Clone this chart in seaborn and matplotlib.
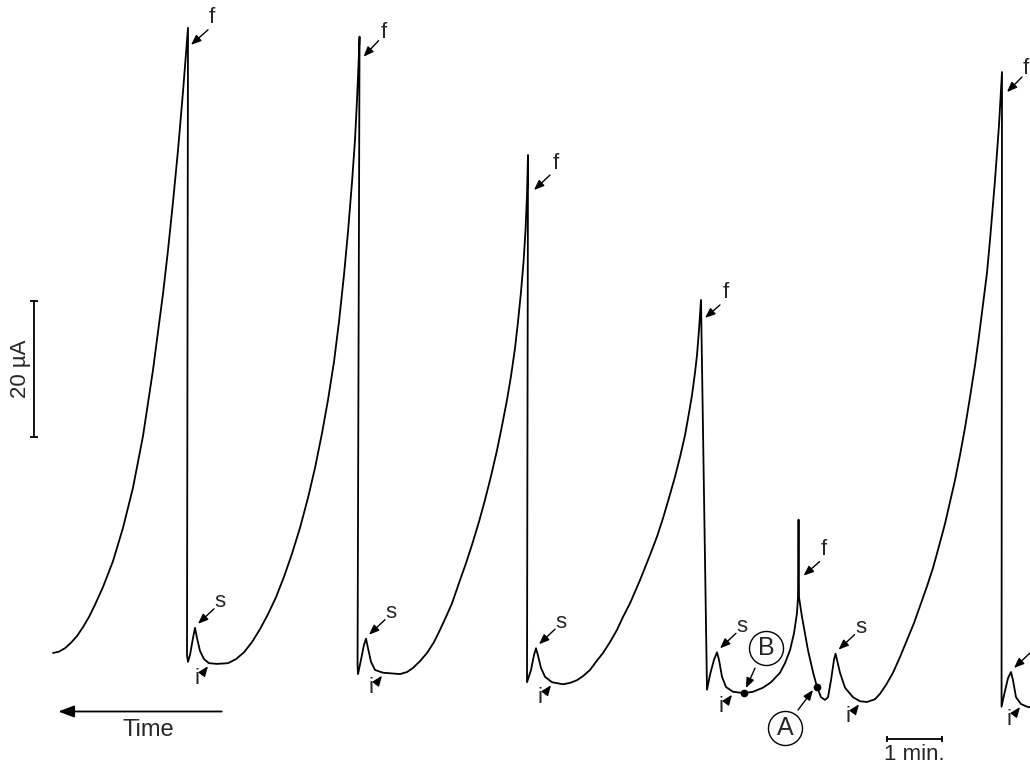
import matplotlib
matplotlib.use("Agg")
import matplotlib.pyplot as plt
from matplotlib.transforms import offset_copy
import pandas as pd
import seaborn as sns

time_s = [
    # rise 1
    0.0, 6.6, 13.2, 19.8, 26.4, 33.0, 39.6, 46.2, 55.0, 66.0,
    77.0, 88.0, 99.0, 110.0, 121.0, 126.5, 132.0, 137.5, 143.0, 148.5,
    # fall 1, s, i
    147.4, 148.5, 150.7, 154.0, 156.2, 158.4, 161.7, 166.1, 171.6, 180.4, 192.5,
    # rise 2
    201.3, 210.1, 218.9, 227.7, 236.5, 245.3, 254.1, 262.9, 271.7, 280.5, 288.2,
    295.9, 302.5, 309.1, 314.6, 320.1, 324.5, 328.9, 332.2, 334.4, 336.05, 337.2,
    # fall 2, s, i
    335.0, 335.5, 338.8, 342.1, 344.3, 346.5, 349.8, 354.2, 363.0, 381.7,
    # rise 3
    389.4, 396.0, 403.7, 411.4, 419.1, 425.7, 432.3, 438.9, 447.7, 454.3, 460.9, 468.6, 475.2,
    481.8, 488.4, 493.9, 499.4, 503.8, 508.2, 511.5, 514.8, 517.6, 519.8, 521.4, 522.5,
    # fall 3, s, i
    521.4, 525.8, 529.1, 531.3, 533.5, 536.8, 541.2, 548.9, 561.0, 568.7, 576.4, 583.0, 590.7,
    # rise 4
    597.3, 605.0, 612.7, 620.4, 627.0, 634.7, 645.7, 656.7, 664.4, 671.0,
    677.6, 684.2, 689.7, 695.2, 699.6, 702.9, 706.2, 708.4, 710.6, 712.8,
    # fall 4, s, i, B, short peak 5, A, s, i
    719.4, 722.7, 727.1, 730.4, 732.6, 735.9, 740.3, 748.0, 760.1, 770.0,
    781.0, 789.8, 799.7, 805.2, 810.7, 815.1, 818.4, 819.5, 820.1, 820.6,
    823.9, 830.5, 836.0, 840.4, 844.8, 849.2, 852.5, 855.8, 859.1, 860.8,
    862.4, 865.7, 871.2, 880.0, 887.7, 895.4, 904.2,
    # rise 6
    909.7, 916.3, 924.0, 931.7, 939.4, 947.1, 953.7, 961.4, 968.0, 974.6,
    981.2, 986.7, 992.2, 997.7, 1003.2, 1008.7, 1014.2, 1018.6, 1023.0, 1027.4,
    1030.7, 1034.0, 1036.2, 1038.4, 1040.6, 1042.2, 1043.9,
    # fall 6, s, i
    1043.4, 1046.1, 1050.5, 1053.8, 1056.0, 1059.3, 1064.8, 1071.4, 1080.2,
]
current_uA = [
    2.5, 2.7, 3.2, 4.0, 5.0, 6.3, 7.8, 9.6, 12.2, 16.0,
    20.9, 26.8, 34.4, 44.1, 55.3, 61.7, 68.8, 76.4, 85.0, 94.4,
    2.2, 1.2, 2.2, 4.7, 6.2, 4.7, 2.8, 1.6, 1.0, 0.9, 1.0,
    1.6, 2.6, 4.1, 6.0, 8.2, 10.7, 13.7, 17.1, 20.9, 25.3, 29.7,
    34.8, 39.7, 45.3, 51.2, 58.1, 64.4, 71.7, 77.9, 83.8, 88.9, 93.1,
    0.7, -0.6, 1.5, 3.7, 4.6, 3.2, 1.2, 0.0, -0.4, -0.6,
    -0.3, 0.3, 1.3, 2.5, 4.1, 5.9, 7.8, 9.8, 13.2, 15.7, 18.4, 21.8, 25.0,
    28.5, 32.3, 35.9, 39.7, 43.2, 47.3, 51.2, 55.6, 60.0, 64.7, 69.8, 75.7,
    -1.8, 0.0, 2.2, 3.2, 2.1, 0.3, -1.0, -1.8, -2.1, -1.9, -1.5, -0.9, 0.0,
    1.2, 2.5, 4.1, 5.9, 7.8, 9.8, 13.2, 16.9, 19.6, 22.3,
    25.3, 28.4, 31.3, 34.5, 37.8, 40.4, 43.7, 46.3, 50.0, 54.4,
    -2.9, -0.7, 1.5, 2.6, 1.5, -1.0, -2.5, -3.2, -3.4, -3.2,
    -2.6, -1.8, -0.4, 1.0, 2.9, 5.4, 8.4, 10.7, 22.1, 10.7,
    7.8, 2.9, -0.3, -2.5, -4.0, -4.4, -4.0, -1.5, 1.5, 2.4,
    1.5, -0.4, -2.6, -4.0, -4.6, -4.7, -4.3,
    -3.5, -2.2, -0.4, 1.9, 4.4, 6.9, 9.4, 12.3, 15.0, 18.2,
    21.5, 24.7, 27.9, 31.6, 35.6, 40.1, 44.8, 49.1, 53.7, 58.4,
    63.2, 68.4, 72.0, 76.0, 80.1, 83.8, 87.9,
    -5.4, -3.7, -1.2, -0.3, -1.5, -4.0, -5.0, -5.4, -5.6,
]

# labelled features
peak_t = [148.5, 337.2, 522.5, 712.8, 820.1, 1043.9]        # f
peak_uA = [94.4, 93.1, 75.7, 54.4, 22.1, 87.9]
spike_t = [156.2, 344.3, 531.3, 730.4, 860.8, 1053.8]       # s
spike_uA = [6.2, 4.6, 3.2, 2.6, 2.4, -0.3]
trough_t = [171.6, 363.0, 548.9, 748.0, 887.7, 1064.8]      # i
trough_uA = [1.0, -0.4, -1.8, -3.2, -4.6, -5.0]
point_labels = ["A", "B"]
point_t = [840.4, 760.1]
point_uA = [-2.5, -3.4]

scale_uA = 20
scale_s = 60

sns.set_theme(style="white")
plt.rcParams["font.family"] = ["Liberation Sans", "DejaVu Sans"]

fig = plt.figure(figsize=(10.3, 7.67), dpi=100)
ax = fig.add_axes([0, 0, 1, 1])

df = pd.DataFrame({"time": time_s, "current": current_uA})
sns.lineplot(data=df, x="time", y="current", sort=False, estimator=None,
             color="black", lw=1.3, ax=ax)

ax.set_xlim(-58.3, 1074.7)
ax.set_ylim(-14.26, 98.49)
ax.set_axis_off()


def shifted(dx, dy):
    return offset_copy(ax.transData, fig=fig, x=dx, y=-dy, units="dots")


arrow_kw = dict(arrowstyle="-|>,head_length=0.5,head_width=0.2",
                color="black", lw=1.0, shrinkA=0, shrinkB=0)


def tag(text, t, i, txt, start, tip, fs=16):
    ax.annotate("", xy=(t, i), xycoords=shifted(*tip), xytext=(t, i),
                textcoords=shifted(*start), arrowprops=arrow_kw)
    ax.text(t, i, text, transform=shifted(*txt), ha="center", va="center", fontsize=fs)


# offsets in pixels, y downwards
f_offsets = [((24, -10), (20, 2), (3, 17)),
             ((24, -4), (19, 4), (4, 20)),
             ((28, 8), (22, 20), (6, 35)),
             ((25, -7), (19, 5), (4, 18)),
             ((25, 30), (21, 42), (5, 56)),
             ((24, -4), (20, 5), (5, 20))]
for t, i, off in zip(peak_t, peak_uA, f_offsets):
    tag("f", t, i, *off)

for t, i in zip(spike_t, spike_uA):
    tag("s", t, i, (25, -26), (19, -19), (3, -4))

for t, i in zip(trough_t, trough_uA):
    tag("i", t, i, (-12, 15), (-7, 11), (-1, 3))

# circled points A and B
circle_offsets = {"A": ((-32, 41), (-19, 23), (-4, 3)),
                  "B": ((22, -45), (11, -25), (2, -5))}
ax.plot(point_t, point_uA, "o", ms=4.5, color="black")
for lab, t, i in zip(point_labels, point_t, point_uA):
    c, start, tip = circle_offsets[lab]
    ax.annotate("", xy=(t, i), xycoords=shifted(*tip), xytext=(t, i),
                textcoords=shifted(*start), arrowprops=arrow_kw)
    ax.plot([t], [i], marker="o", ms=24.5, mfc="none", mec="black", mew=1.0,
            transform=shifted(*c))
    ax.text(t, i, lab, transform=shifted(*c), ha="center", va="center", fontsize=18)

# 20 uA scale bar
bar_t, bar_lo = -20.6, 34.3
ax.plot([bar_t, bar_t], [bar_lo, bar_lo + scale_uA], color="black", lw=1.3)
ax.plot([bar_t, bar_t], [bar_lo, bar_lo + scale_uA], ls="none", marker="_",
        ms=6, mew=1.3, color="black")
ax.text(bar_t, bar_lo + scale_uA / 2, "20 µA", rotation=90, ha="center", va="center",
        fontsize=16, transform=shifted(-14, 0))

# time arrow
ax.annotate("", xy=(5.8, -6.1), xytext=(185.6, -6.1),
            arrowprops=dict(arrowstyle="-|>,head_length=0.8,head_width=0.3",
                            color="black", lw=1.3, shrinkA=0, shrinkB=0))
ax.text(104.8, -8.8, "Time", ha="center", va="center", fontsize=17)

# 1 min scale bar
min_t0, min_y = 917.5, -10.2
ax.plot([min_t0, min_t0 + scale_s], [min_y, min_y], color="black", lw=1.3)
ax.plot([min_t0, min_t0 + scale_s], [min_y, min_y], ls="none", marker="|",
        ms=5, mew=1.3, color="black")
ax.text(min_t0 + scale_s / 2, min_y, "1 min.", ha="center", va="top", fontsize=16,
        transform=shifted(0, 5))

fig.savefig("out.png", dpi=100)
